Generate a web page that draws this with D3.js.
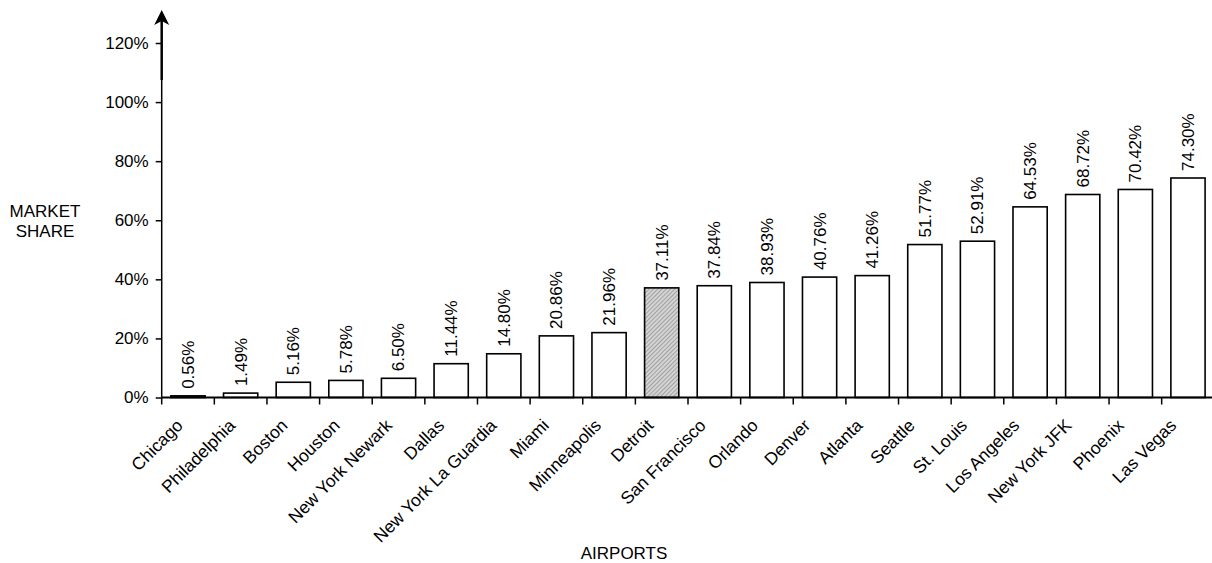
<!DOCTYPE html>
<html>
<head>
<meta charset="utf-8">
<script src="https://cdn.jsdelivr.net/npm/d3@7"></script>
<style>
  html, body { margin: 0; padding: 0; background: #fff; }
  svg { display: block; font-family: "Liberation Sans", Arial, sans-serif; }
</style>
</head>
<body>
<svg id="chart" width="1212" height="563"></svg>
<script>
const categories = ["Chicago","Philadelphia","Boston","Houston","New York Newark","Dallas","New York La Guardia","Miami","Minneapolis","Detroit","San Francisco","Orlando","Denver","Atlanta","Seattle","St. Louis","Los Angeles","New York JFK","Phoenix","Las Vegas"];
const values = [0.56,1.49,5.16,5.78,6.50,11.44,14.80,20.86,21.96,37.11,37.84,38.93,40.76,41.26,51.77,52.91,64.53,68.72,70.42,74.30];
const highlighted = ["Detroit"];
const yTicks = [0,20,40,60,80,100,120];
const yTitle = ["MARKET","SHARE"];
const xTitle = "AIRPORTS";

const svg = d3.select("#chart");
const x0 = 161.7, step = 52.63;
const x = d3.scaleBand().domain(categories)
  .range([x0, x0 + step * categories.length])
  .paddingInner(0.35).paddingOuter(0.175);
const y = d3.scaleLinear().domain([0, 120]).range([397.5, 43]);

// pattern for highlighted bar
const defs = svg.append("defs");
const pat = defs.append("pattern").attr("id","hatch").attr("patternUnits","userSpaceOnUse")
  .attr("width",3).attr("height",3).attr("patternTransform","rotate(45)");
pat.append("rect").attr("width",3).attr("height",3).attr("fill","#d4d4d4");
pat.append("rect").attr("width",1).attr("height",3).attr("fill","#a0a0a0");

// bars
svg.append("g").selectAll("rect").data(categories).join("rect")
  .attr("x", d => x(d))
  .attr("y", (d,i) => y(values[i]))
  .attr("width", x.bandwidth())
  .attr("height", (d,i) => y(0) - y(values[i]))
  .attr("fill", d => highlighted.includes(d) ? "url(#hatch)" : "#fff")
  .attr("stroke", "#000").attr("stroke-width", 1.6);

// value labels
svg.append("g").selectAll("text").data(categories).join("text")
  .attr("transform", (d,i) => `translate(${x(d) + x.bandwidth()/2},${y(values[i]) - 7}) rotate(-90)`)
  .attr("dy", "0.35em")
  .attr("font-size", 17)
  .attr("text-anchor", "start")
  .text((d,i) => values[i].toFixed(2) + "%");

// y axis
const yAxis = svg.append("g").attr("transform", `translate(${x0},0)`)
  .call(d3.axisLeft(y).tickValues(yTicks).tickFormat(d => d + "%").tickSize(6).tickPadding(7));
yAxis.select(".domain").remove();
yAxis.selectAll(".tick line").attr("stroke","#000").attr("stroke-width",1.5);
yAxis.selectAll(".tick text").attr("font-size", 17).attr("font-family","Liberation Sans, Arial, sans-serif").attr("fill","#000");

svg.append("line").attr("x1",x0).attr("x2",x0).attr("y1",y(0)).attr("y2",80)
  .attr("stroke","#000").attr("stroke-width",1.5);
svg.append("line").attr("x1",x0).attr("x2",x0).attr("y1",80).attr("y2",20)
  .attr("stroke","#000").attr("stroke-width",2.5);
svg.append("path")
  .attr("d", `M${x0},10 L${x0+7.5},25 L${x0},21 L${x0-7.5},25 Z`)
  .attr("fill","#000");

// x axis
svg.append("line").attr("x1",x0).attr("x2",1212).attr("y1",y(0)).attr("y2",y(0))
  .attr("stroke","#000").attr("stroke-width",2);
const boundaries = categories.map(d => x(d) - x.step()*x.paddingInner()/2).concat([x0 + step*categories.length]);
svg.append("g").selectAll("line").data(boundaries).join("line")
  .attr("x1", d => d).attr("x2", d => d)
  .attr("y1", y(0)).attr("y2", y(0) + 7)
  .attr("stroke","#000").attr("stroke-width",1.5);

const xAxis = svg.append("g").attr("transform", `translate(0,${y(0)})`)
  .call(d3.axisBottom(x).tickSize(0).tickPadding(0));
xAxis.select(".domain").remove();
xAxis.selectAll(".tick text")
  .attr("font-size", 17.5).attr("font-family","Liberation Sans, Arial, sans-serif").attr("fill","#000")
  .attr("text-anchor","end")
  .attr("dy", null)
  .attr("y", 0)
  .attr("transform", (d,i) => `translate(${-4 - i*0.35},29) rotate(-45)`);

// titles
svg.append("text").attr("x", 45).attr("font-size", 17).attr("text-anchor","middle")
  .selectAll("tspan").data(yTitle).join("tspan")
  .attr("x", 45).attr("y", (d,i) => 216.5 + i*20).text(d => d);
svg.append("text").attr("x", 624).attr("y", 559).attr("font-size", 17)
  .attr("text-anchor","middle").text(xTitle);
</script>
</body>
</html>
